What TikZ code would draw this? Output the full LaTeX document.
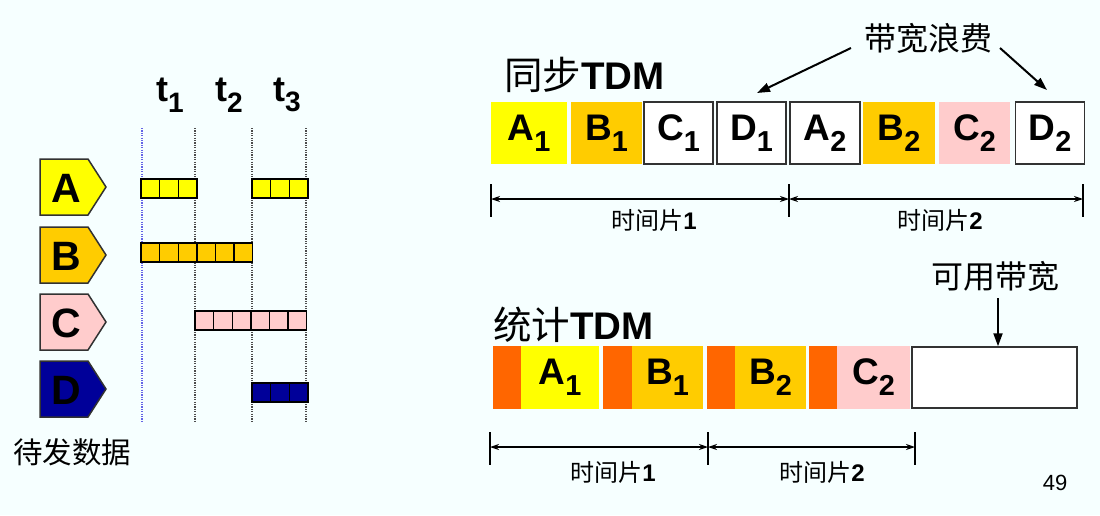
\documentclass[tikz,border=0pt]{standalone}
\usepackage{fontspec}
\setmainfont{Liberation Sans}
\newfontfamily\cjk{Noto Sans CJK SC}
\usetikzlibrary{arrows.meta}
\definecolor{bg}{RGB}{246,255,255}
\definecolor{yel}{RGB}{255,255,0}
\definecolor{org}{RGB}{255,204,0}
\definecolor{pnk}{RGB}{255,204,204}
\definecolor{navy}{RGB}{0,0,153}
\definecolor{red}{RGB}{255,102,0}
\definecolor{boxgray}{RGB}{50,50,50}
\definecolor{dotblue}{RGB}{100,100,230}
\newcommand\subs[1]{\raisebox{-0.3em}{\scalebox{0.78}{#1}}}
\tikzset{
  slot/.style={minimum height=62pt, inner sep=0pt, font=\fontsize{37}{40}\selectfont\bfseries},
  framed/.style={draw=boxgray, line width=1.5pt, fill=white},
  penta/.style={draw=boxgray, line width=1.5pt},
  pletter/.style={inner sep=0pt, font=\fontsize{41}{44}\selectfont\bfseries},
  tlabel/.style={inner sep=0pt, font=\fontsize{36}{40}\selectfont\bfseries},
  guide/.style={line width=1.2pt, dash pattern=on 1.2pt off 1.2pt, draw=black!70},
  bar/.style={line width=1.6pt, draw=black},
  dim/.style={line width=1.1pt, {Stealth[length=9pt,width=6pt]}-{Stealth[length=9pt,width=6pt]}},
  tick/.style={line width=1.1pt},
  callout/.style={line width=2pt, -{Triangle[length=13pt,width=9pt]}},
  dimtext/.style={inner sep=0pt, font=\fontsize{24}{26}\selectfont},
  title/.style={inner sep=0pt, anchor=west, font=\fontsize{38.5}{42}\selectfont},
  note/.style={inner sep=0pt, font=\cjk\fontsize{32}{34}\selectfont},
}
\begin{document}
\begin{tikzpicture}[x=1pt,y=-1pt]
\fill[bg] (0,0) rectangle (1100,515);
\useasboundingbox (0,0) rectangle (1100,515);

% ---------- left part ----------
\node[tlabel] (t1) at (170,95) {t\subs{1}};
\node[tlabel] (t2) at (229,95) {t\subs{2}};
\node[tlabel] (t3) at (287,95) {t\subs{3}};

\coordinate (g1a) at (142,128); \coordinate (g1b) at (142,422);
\coordinate (g2a) at (195,128); \coordinate (g2b) at (195,422);
\coordinate (g3a) at (252,128); \coordinate (g3b) at (252,422);
\coordinate (g4a) at (306,128); \coordinate (g4b) at (306,422);
\draw[guide, draw=dotblue] (g1a) -- (g1b);
\draw[guide] (g2a) -- (g2b);
\draw[guide] (g3a) -- (g3b);
\draw[guide] (g4a) -- (g4b);

\foreach \y/\c/\l in {159/yel/A, 227/org/B, 294/pnk/C, 361/navy/D}{
  \draw[penta, fill=\c] (40,\y) -- (88,\y) -- (106,\y+28) -- (88,\y+56) -- (40,\y+56) -- cycle;
  \node[pletter] (src\l) at (66,\y+29) {\l};
}

\foreach \x/\y/\n/\c in {141/179/3/yel, 252/179/3/yel, 141/243/6/org, 195/311/6/pnk, 252/383/3/navy}{
  \draw[bar, fill=\c] (\x,\y) rectangle ++(\n*18.6,19);
  \foreach \i in {1,2,3,4,5}{
    \ifnum\i<\n \draw[line width=1.4pt] (\x+\i*18.6,\y) -- ++(0,19); \fi
  }
}

\node[inner sep=0pt, font=\cjk\fontsize{29.5}{32}\selectfont] (pending) at (72,452) {待发数据};

% ---------- synchronous TDM ----------
\node[title] (sync) at (504,75) {{\cjk 同步}\bfseries TDM};

\node[slot, minimum width=76pt, fill=yel] (sA1) at (529,133) {A\subs{1}};
\node[slot, minimum width=71pt, fill=org] (sB1) at (606.5,133) {B\subs{1}};
\node[slot, framed, minimum width=69pt] (sC1) at (678.5,133) {C\subs{1}};
\node[slot, framed, minimum width=69pt] (sD1) at (751.5,133) {D\subs{1}};
\node[slot, framed, minimum width=70pt] (sA2) at (825,133) {A\subs{2}};
\node[slot, minimum width=72pt, fill=org] (sB2) at (899,133) {B\subs{2}};
\node[slot, minimum width=71pt, fill=pnk] (sC2) at (974.5,133) {C\subs{2}};
\node[slot, framed, minimum width=69pt] (sD2) at (1050,133) {D\subs{2}};

\node[note] (waste) at (928,38) {带宽浪费};
\coordinate (w1) at (851,48); \coordinate (w1tip) at (757,93);
\coordinate (w2) at (1000,48); \coordinate (w2tip) at (1047,90);
\draw[callout] (w1) -- (w1tip);
\draw[callout] (w2) -- (w2tip);

\coordinate (k1a) at (491,184); \coordinate (k1b) at (491,217);
\coordinate (k2a) at (789,184); \coordinate (k2b) at (789,217);
\coordinate (k3a) at (1083,184); \coordinate (k3b) at (1083,217);
\draw[tick] (k1a) -- (k1b);
\draw[tick] (k2a) -- (k2b);
\draw[tick] (k3a) -- (k3b);
\draw[dim] (k1a |- 0,199) -- (k2a |- 0,199);
\draw[dim] (k2a |- 0,199) -- (k3a |- 0,199);
\node[dimtext] (sl1) at (654,220) {{\cjk 时间片}\bfseries 1};
\node[dimtext] (sl2) at (940,220) {{\cjk 时间片}\bfseries 2};

% ---------- statistical TDM ----------
\node[title] (stat) at (493,325) {{\cjk 统计}\bfseries TDM};

\node[slot, minimum width=28pt, minimum height=63pt, fill=red] (h1) at (507,377.5) {};
\node[slot, minimum width=78pt, minimum height=63pt, fill=yel] (tA1) at (560,377.5) {A\subs{1}};
\node[slot, minimum width=29pt, minimum height=63pt, fill=red] (h2) at (617.5,377.5) {};
\node[slot, minimum width=71pt, minimum height=63pt, fill=org] (tB1) at (667.5,377.5) {B\subs{1}};
\node[slot, minimum width=28pt, minimum height=63pt, fill=red] (h3) at (721,377.5) {};
\node[slot, minimum width=71pt, minimum height=63pt, fill=org] (tB2) at (770.5,377.5) {B\subs{2}};
\node[slot, minimum width=28pt, minimum height=63pt, fill=red] (h4) at (823,377.5) {};
\node[slot, minimum width=73pt, minimum height=63pt, fill=pnk] (tC2) at (873.5,377.5) {C\subs{2}};
\node[slot, framed, minimum width=165pt, minimum height=61pt] (free) at (994.5,377.5) {};

\node[note] (avail) at (995,276) {可用带宽};
\coordinate (av1) at (998,298);
\draw[callout] (av1) -- (free.north -| av1);

\coordinate (m1a) at (490,432); \coordinate (m1b) at (490,465);
\coordinate (m2a) at (708,432); \coordinate (m2b) at (708,465);
\coordinate (m3a) at (915,432); \coordinate (m3b) at (915,465);
\draw[tick] (m1a) -- (m1b);
\draw[tick] (m2a) -- (m2b);
\draw[tick] (m3a) -- (m3b);
\draw[dim] (m1a |- 0,447) -- (m2a |- 0,447);
\draw[dim] (m2a |- 0,447) -- (m3a |- 0,447);
\node[dimtext] (tl1) at (613,472) {{\cjk 时间片}\bfseries 1};
\node[dimtext] (tl2) at (822,472) {{\cjk 时间片}\bfseries 2};

\node[inner sep=0pt, font=\fontsize{22}{24}\selectfont] (page) at (1055,483) {49};
\end{tikzpicture}
\end{document}
